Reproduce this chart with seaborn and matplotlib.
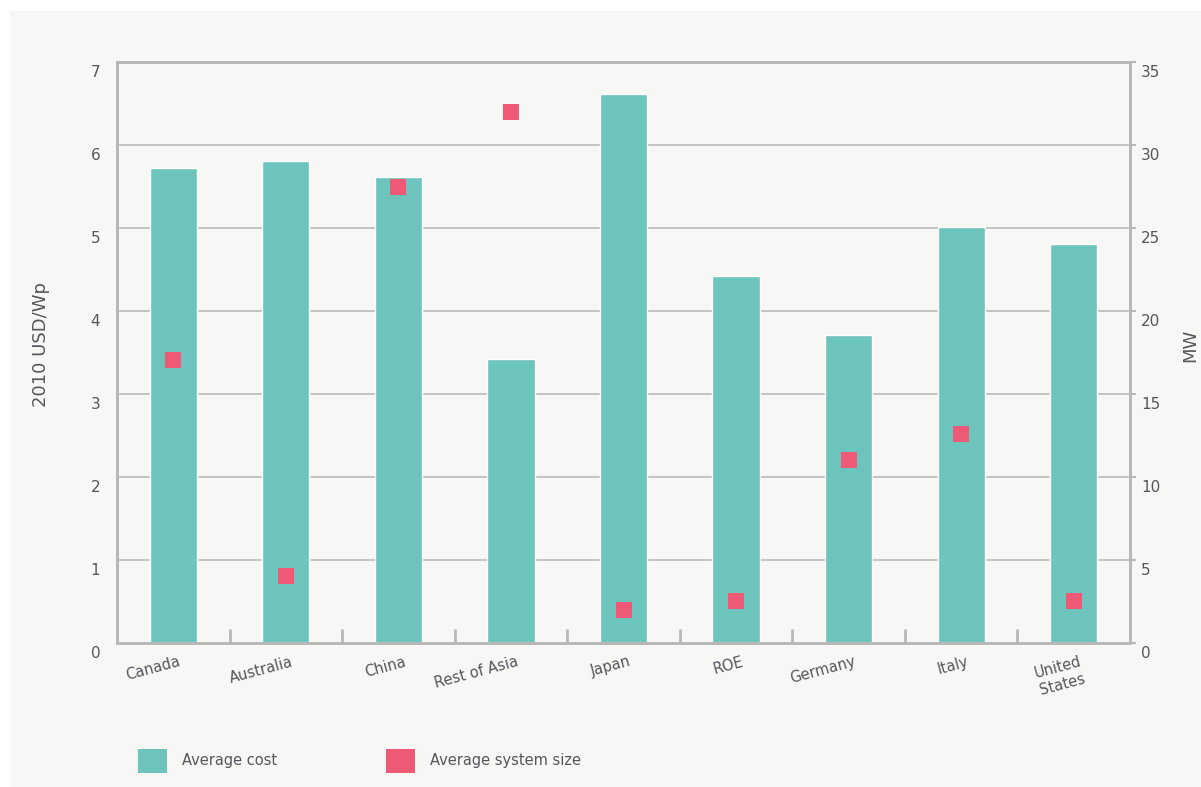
import matplotlib
matplotlib.use("Agg")
import matplotlib.pyplot as plt
import matplotlib.transforms as mtransforms
from matplotlib.patches import Patch, Rectangle
import numpy as np
import pandas as pd
import seaborn as sns

# Data
countries = ["Canada", "Australia", "China", "Rest of Asia", "Japan",
             "ROE", "Germany", "Italy", "United\nStates"]
avg_cost = [5.72, 5.81, 5.61, 3.42, 6.61, 4.42, 3.71, 5.01, 4.81]      # 2010 USD/Wp
avg_size = [17.05, 4.05, 27.5, 32.0, 2.0, 2.55, 11.0, 12.6, 2.55]      # MW
left_ticks = [0, 1, 2, 3, 4, 5, 6, 7]
right_ticks = [0, 5, 10, 15, 20, 25, 30, 35]

BAR = "#6cc4bd"
SQUARE = "#ee5a75"
PANEL = "#f7f7f5"
SPINE = "#b8b8b8"
GRID = "#c4c4c4"
TEXT = "#55575c"

sns.set_theme(style="white")
plt.rcParams["font.family"] = ["DejaVu Sans"]

df = pd.DataFrame({"country": countries, "cost": avg_cost, "size": avg_size,
                   "pos": np.arange(len(countries))})

fig = plt.figure(figsize=(12.01, 7.87), dpi=100)
fig.patch.set_facecolor("white")
fig.patches.append(Rectangle((10 / 1201, 0), 1 - 10 / 1201, 1 - 11 / 787,
                             transform=fig.transFigure, facecolor=PANEL,
                             edgecolor="none", zorder=-10))

ax = fig.add_axes([117 / 1201, 1 - 643 / 787, 1013 / 1201, 581 / 787])
ax.set_facecolor(PANEL)
ax.set_axisbelow(True)

sns.barplot(data=df, x="pos", y="cost", ax=ax, color=BAR, width=0.42,
            saturation=1, native_scale=True, zorder=2)
ax.set_xlim(-0.5, len(countries) - 0.5)
ax.set_ylim(0, 7)
ax.set_yticks(left_ticks)
ax.yaxis.grid(True, color=GRID, linewidth=1.4)
ax.xaxis.grid(False)

# Category separators as inward ticks on the baseline
ax.set_xticks(np.arange(len(countries)) - 0.5, minor=True)
ax.tick_params(axis="x", which="minor", direction="in", length=10, width=2,
               color=SPINE, bottom=True)
ax.set_xticks(np.arange(len(countries)))
ax.set_xticklabels(countries, rotation=15, ha="right", va="top",
                   rotation_mode="anchor", fontsize=10.5, color=TEXT,
                   multialignment="center")
ax.tick_params(axis="x", which="major", length=0, pad=8)
for lbl in ax.get_xticklabels():
    lbl.set_transform(lbl.get_transform() +
                      mtransforms.ScaledTranslation(5 / 100, 0, fig.dpi_scale_trans))

ax.tick_params(axis="y", length=0, pad=12, labelsize=11, labelcolor=TEXT)
for lbl in ax.get_yticklabels():
    lbl.set_transform(lbl.get_transform() +
                      mtransforms.ScaledTranslation(0, -9 / 100, fig.dpi_scale_trans))

for s in ax.spines.values():
    s.set_color(SPINE)
    s.set_linewidth(2)
    s.set_visible(True)

ax.set_xlabel("")
ax.set_ylabel("2010 USD/Wp", fontsize=13, color=TEXT)
ax.yaxis.set_label_coords(-0.066, 0.513)

# Secondary axis: average system size
ax2 = ax.twinx()
ax2.set_facecolor("none")
sns.scatterplot(data=df, x="pos", y="size", ax=ax2, marker="s", s=140,
                color=SQUARE, linewidth=0, zorder=3)
ax2.set_ylim(0, 35)
ax2.set_yticks(right_ticks)
ax2.tick_params(axis="y", right=True, direction="out", length=4, width=1.5,
                color=SPINE, pad=4, labelsize=11, labelcolor=TEXT)
for lbl in ax2.get_yticklabels():
    lbl.set_transform(lbl.get_transform() +
                      mtransforms.ScaledTranslation(0, -9 / 100, fig.dpi_scale_trans))
for s in ax2.spines.values():
    s.set_color(SPINE)
    s.set_linewidth(2)
ax2.set_xlabel("")
ax2.set_ylabel("MW", fontsize=13, color=TEXT)
ax2.yaxis.set_label_coords(1.051, 0.513)
ax2.set_xlim(-0.5, len(countries) - 0.5)

handles = [Patch(facecolor=BAR, edgecolor="none", label="Average cost"),
           Patch(facecolor=SQUARE, edgecolor="none", label="Average system size")]
leg = fig.legend(handles=handles, loc="lower left",
                 bbox_to_anchor=(138 / 1201, 14 / 787), ncol=2, frameon=False,
                 fontsize=10.5, handlelength=2.0, handleheight=2.2,
                 handletextpad=1.0, columnspacing=7.5, borderpad=0,
                 borderaxespad=0)
for t in leg.get_texts():
    t.set_color(TEXT)

fig.savefig("out.png", dpi=100, facecolor=fig.get_facecolor())
